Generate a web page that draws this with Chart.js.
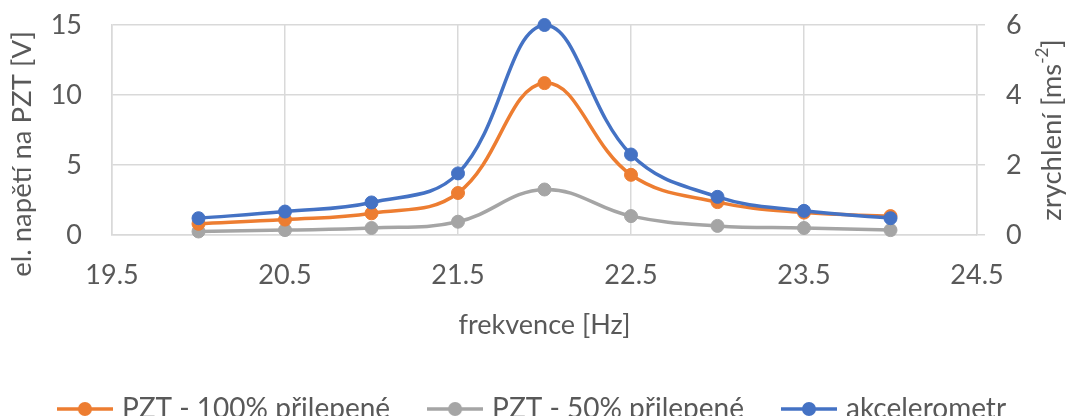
<!DOCTYPE html>
<html>
<head>
<meta charset="utf-8">
<script src="https://cdn.jsdelivr.net/npm/chart.js@4/dist/chart.umd.min.js"></script>
<style>
  html, body { margin: 0; padding: 0; background: #fff; }
  #wrap { width: 1068px; height: 416px; }
</style>
</head>
<body>
<div id="wrap"><canvas id="c" width="1068" height="416"></canvas></div>
<script>
// frequency [Hz]
const freq = [20, 20.5, 21, 21.5, 22, 22.5, 23, 23.5, 24];
// PZT voltage [V]
const pzt100 = [0.8, 1.1, 1.55, 3.0, 10.85, 4.3, 2.35, 1.6, 1.35];
const pzt50 = [0.25, 0.35, 0.5, 0.95, 3.25, 1.35, 0.65, 0.5, 0.35];
// acceleration [m s^-2]
const accel = [0.48, 0.67, 0.93, 1.76, 6.0, 2.3, 1.09, 0.69, 0.48];

const xTicks = [19.5, 20.5, 21.5, 22.5, 23.5, 24.5];
const yTicks = [0, 5, 10, 15];
const y1Ticks = [0, 2, 4, 6];

const ORANGE = "#ED7D31";
const GRAY = "#A5A5A5";
const BLUE = "#4472C4";
const TEXT = "#595959";
const GRID = "#d9d9d9";
const FONT = "Lato, 'Open Sans', sans-serif";

// small line+dot icon for the legend, like Excel's
function legendIcon(color) {
  const cv = document.createElement("canvas");
  cv.width = 56; cv.height = 16;
  const g = cv.getContext("2d");
  g.strokeStyle = color; g.lineWidth = 3.5;
  g.beginPath(); g.moveTo(0, 8); g.lineTo(56, 8); g.stroke();
  g.fillStyle = color;
  g.beginPath(); g.arc(28, 8, 7, 0, Math.PI * 2); g.fill();
  return cv;
}

function pts(ys) {
  return freq.map((x, i) => ({ x, y: ys[i] }));
}

function series(label, ys, color, axis, order) {
  return {
    label,
    data: pts(ys),
    yAxisID: axis,
    borderColor: color,
    backgroundColor: color,
    pointBackgroundColor: color,
    pointBorderColor: color,
    borderWidth: 3.5,
    pointRadius: 6.5,
    pointBorderWidth: 1,
    pointStyle: "circle",
    tension: 0.4,
    clip: false,
    order,
  };
}

const fixTicks = (vals) => (scale) => { scale.ticks = vals.map((v) => ({ value: v })); };
const fixWidth = (w) => (s) => { s.width = w; s.paddingTop = 0; s.paddingBottom = 0; };

// both axis titles read bottom-to-top, the left one sits a bit low (as in Excel)
const axisTitles = {
  id: "axisTitles",
  afterDraw(chart) {
    const ctx = chart.ctx;
    const area = chart.chartArea;
    ctx.save();
    ctx.fillStyle = TEXT;
    ctx.textBaseline = "middle";
    ctx.textAlign = "center";

    ctx.save();
    ctx.translate(22, area.top + 129);
    ctx.rotate(-Math.PI / 2);
    ctx.font = "27.5px " + FONT;
    ctx.fillText("el. napětí na PZT [V]", 0, 0);
    ctx.restore();

    ctx.save();
    ctx.translate(1052, (area.top + area.bottom) / 2);
    ctx.rotate(-Math.PI / 2);
    const a = "zrychlení [ms", b = "-2", c = "]";
    ctx.font = "27.5px " + FONT;
    const wa = ctx.measureText(a).width, wc = ctx.measureText(c).width;
    ctx.font = "17px " + FONT;
    const wb = ctx.measureText(b).width;
    let x = -(wa + wb + wc) / 2;
    ctx.textAlign = "left";
    ctx.font = "27.5px " + FONT;
    ctx.fillText(a, x, 0); x += wa;
    ctx.font = "17px " + FONT;
    ctx.fillText(b, x, -9); x += wb;
    ctx.font = "27.5px " + FONT;
    ctx.fillText(c, x, 0);
    ctx.restore();

    ctx.restore();
  },
};

new Chart(document.getElementById("c"), {
  type: "line",
  data: {
    datasets: [
      series("PZT - 100% přilepené", pzt100, ORANGE, "y", 1),
      series("PZT - 50% přilepené", pzt50, GRAY, "y", 2),
      series("akcelerometr", accel, BLUE, "y1", 0),
    ],
  },
  plugins: [axisTitles],
  options: {
    responsive: false,
    animation: false,
    layout: { padding: { top: 25, left: 0, right: 0, bottom: 0 } },
    plugins: {
      tooltip: { enabled: false },
      legend: {
        position: "bottom",
        maxHeight: 63,
        labels: {
          usePointStyle: true,
          pointStyleWidth: 46,
          padding: 42,
          color: TEXT,
          font: { family: FONT, size: 28 },
          generateLabels: (chart) => chart.data.datasets.map((ds, i) => ({
            text: ds.label,
            fontColor: TEXT,
            pointStyle: legendIcon(ds.borderColor),
            lineWidth: 0,
            strokeStyle: "transparent",
            fillStyle: "transparent",
            hidden: false,
            datasetIndex: i,
          })),
        },
      },
    },
    scales: {
      x: {
        type: "linear",
        min: 19.5,
        max: 24.5,
        afterBuildTicks: fixTicks(xTicks),
        afterFit: (s) => { s.height = 118; },
        grid: { color: GRID, lineWidth: 1.5, drawTicks: false },
        border: { color: GRID, width: 1.5 },
        ticks: { color: TEXT, font: { family: FONT, size: 27 }, padding: 24, maxRotation: 0 },
        title: { display: true, text: "frekvence [Hz]", color: TEXT, font: { family: FONT, size: 27 }, padding: { bottom: 12 } },
      },
      y: {
        position: "left",
        min: 0,
        max: 15,
        afterBuildTicks: fixTicks(yTicks),
        afterFit: fixWidth(112),
        grid: { color: GRID, lineWidth: 1.5, drawTicks: false },
        border: { color: GRID, width: 1.5 },
        ticks: { color: TEXT, font: { family: FONT, size: 27 }, padding: 30 },
      },
      y1: {
        position: "right",
        min: 0,
        max: 6,
        afterBuildTicks: fixTicks(y1Ticks),
        afterFit: fixWidth(91),
        grid: { color: GRID, lineWidth: 1.5, drawOnChartArea: false, drawTicks: true, tickLength: 8 },
        border: { color: GRID, width: 1.5 },
        ticks: { color: TEXT, font: { family: FONT, size: 27 }, padding: 21 },
      },
    },
  },
});
</script>
</body>
</html>
